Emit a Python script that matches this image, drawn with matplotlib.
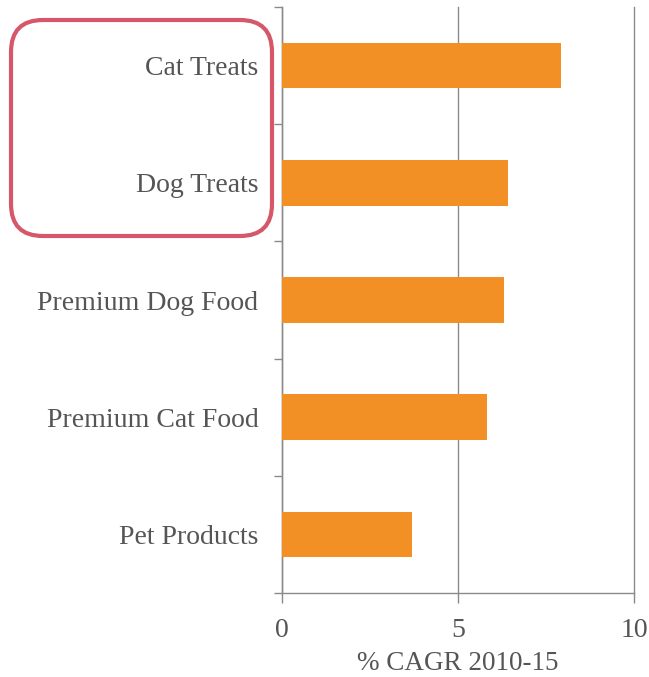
import matplotlib
matplotlib.use("Agg")
import matplotlib.pyplot as plt
from matplotlib.patches import FancyBboxPatch

categories = ["Cat Treats", "Dog Treats", "Premium Dog Food", "Premium Cat Food", "Pet Products"]
values = [7.93, 6.42, 6.31, 5.82, 3.69]
xticks = [0, 5, 10]
xlabel = "% CAGR 2010-15"

W, H = 649, 677
fig = plt.figure(figsize=(W / 100, H / 100), dpi=100)
ax = fig.add_axes([282 / W, 1 - 593 / H, (634 - 282) / W, (593 - 7) / H])

text_color = "#555555"
grid_color = "#8a8a8a"
font = "Liberation Serif"
fs = 20

ypos = list(range(len(categories)))
ax.barh(ypos, values, height=0.39, color="#F39025", zorder=3)
ax.set_ylim(len(categories) - 0.5, -0.5)
ax.set_xlim(0, 10)

ax.set_yticks(ypos)
ax.set_yticklabels(categories, fontsize=fs, color=text_color, family=font)
ax.set_yticks([i - 0.5 for i in range(len(categories) + 1)], minor=True)
ax.tick_params(axis="y", which="major", length=0, pad=17)
ax.tick_params(axis="y", which="minor", length=6, width=1, color=grid_color)

ax.set_xticks(xticks)
ax.set_xticklabels([str(t) for t in xticks], fontsize=fs, color=text_color, family=font)
ax.tick_params(axis="x", which="major", length=7, width=1, color=grid_color, pad=11)
ax.set_xlabel(xlabel, fontsize=19.5, color=text_color, family=font, labelpad=6)

for s in ["top", "right"]:
    ax.spines[s].set_visible(False)
for s in ["left", "bottom"]:
    ax.spines[s].set_color(grid_color)
    ax.spines[s].set_linewidth(1)
ax.xaxis.grid(True, color=grid_color, linewidth=1)
for gl in ax.get_xgridlines():
    gl.set_clip_on(False)
ax.set_axisbelow(True)

ov = fig.add_axes([0, 0, 1, 1], zorder=10)
ov.set_xlim(0, W)
ov.set_ylim(H, 0)
ov.axis("off")
ov.patch.set_alpha(0)
box = FancyBboxPatch((11, 20), 261, 216, boxstyle="round,pad=0,rounding_size=32",
                     fill=False, edgecolor="#D6566A", linewidth=3)
ov.add_patch(box)

fig.savefig("out.png", dpi=100)
